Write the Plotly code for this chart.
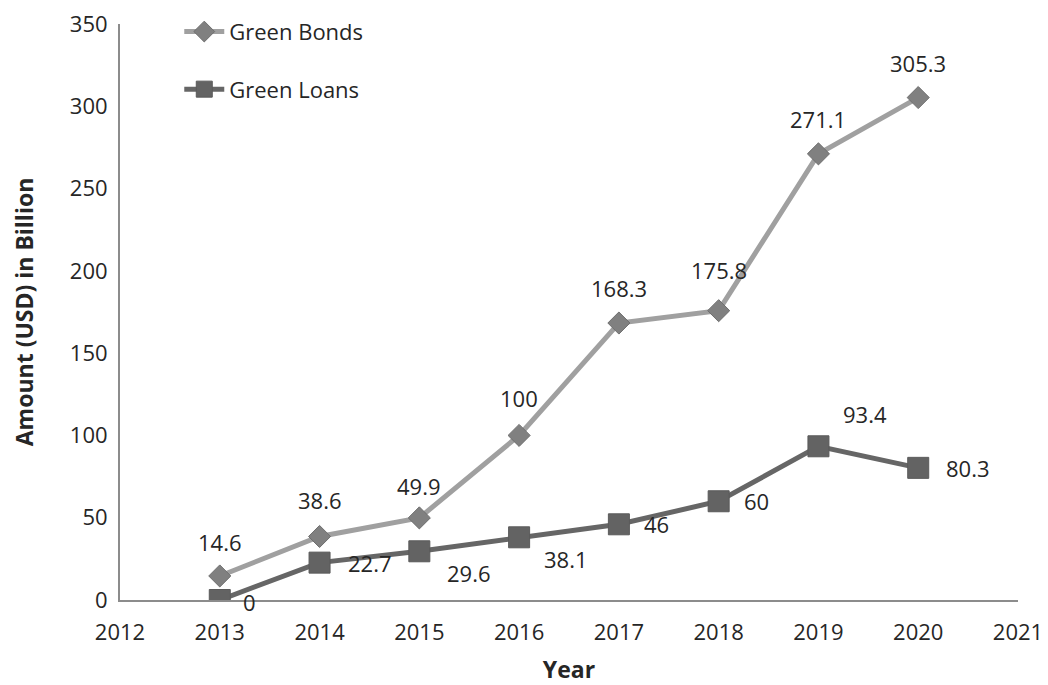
import plotly.graph_objects as go

years = [2013, 2014, 2015, 2016, 2017, 2018, 2019, 2020]
green_bonds = [14.6, 38.6, 49.9, 100, 168.3, 175.8, 271.1, 305.3]
green_loans = [0, 22.7, 29.6, 38.1, 46, 60, 93.4, 80.3]
bond_labels = ["14.6", "38.6", "49.9", "100", "168.3", "175.8", "271.1", "305.3"]
loan_labels = ["0", "22.7", "29.6", "38.1", "46", "60", "93.4", "80.3"]

# label offsets in pixels (style)
bond_shift = [(0, 34), (0, 36), (0, 32), (0, 37), (0, 35), (0, 41), (0, 35), (0, 35)]
loan_shift = [(30, -2), (50, 0), (50, -22), (47, -22), (38, 0), (38, 0), (47, 32), (50, 0)]

FONT = "Open Sans"
TXT = "#262626"
fig = go.Figure()
fig.add_trace(go.Scatter(
    x=years, y=green_bonds, name="Green Bonds", mode="lines+markers",
    line=dict(color="#a0a0a0", width=5),
    marker=dict(symbol="diamond", size=17, color="#808080", line=dict(color="#6e6e6e", width=1)),
    legendgroup="a",
))
fig.add_trace(go.Scatter(
    x=years, y=green_loans, name="Green Loans", mode="lines+markers",
    line=dict(color="#666666", width=5),
    marker=dict(symbol="square", size=21, color="#636363", line=dict(color="#5a5a5a", width=1)),
    legendgroup="b",
))

for x, y, t, (dx, dy) in zip(years, green_bonds, bond_labels, bond_shift):
    fig.add_annotation(x=x, y=y, text=t, showarrow=False, xshift=dx, yshift=dy,
                       font=dict(family=FONT, size=22, color=TXT))
for x, y, t, (dx, dy) in zip(years, green_loans, loan_labels, loan_shift):
    fig.add_annotation(x=x, y=y, text=t, showarrow=False, xshift=dx, yshift=dy,
                       font=dict(family=FONT, size=22, color=TXT))

fig.update_layout(
    width=1040, height=677,
    margin=dict(l=112, r=30, t=16, b=85, autoexpand=False),
    paper_bgcolor="white", plot_bgcolor="white",
    font=dict(family=FONT, size=22, color=TXT),
    showlegend=True,
    legend=dict(x=0.066, y=1.023, xanchor="left", yanchor="top",
                font=dict(family=FONT, size=22, color=TXT),
                tracegroupgap=26, bgcolor="rgba(0,0,0,0)", itemwidth=40),
    xaxis=dict(range=[2012, 2021], dtick=1, tick0=2012, showgrid=False, zeroline=False,
               showline=True, linecolor="#8c8c8c", linewidth=2, ticks="", ticklabelstandoff=12,
               automargin=False, ticklabeloverflow="allow",
               title=dict(text="<b>Year</b>", font=dict(family=FONT, size=23, color=TXT), standoff=28),
               tickfont=dict(family=FONT, size=22, color=TXT)),
    yaxis=dict(range=[0, 350], dtick=50, showgrid=False, zeroline=False,
               showline=True, linecolor="#8c8c8c", linewidth=2, ticks="", ticklabelstandoff=6,
               automargin=False, ticklabeloverflow="allow",
               title=dict(text="<b>Amount (USD) in Billion</b>", font=dict(family=FONT, size=23, color=TXT), standoff=34),
               tickfont=dict(family=FONT, size=22, color=TXT)),
)

fig.write_html("out.html")
